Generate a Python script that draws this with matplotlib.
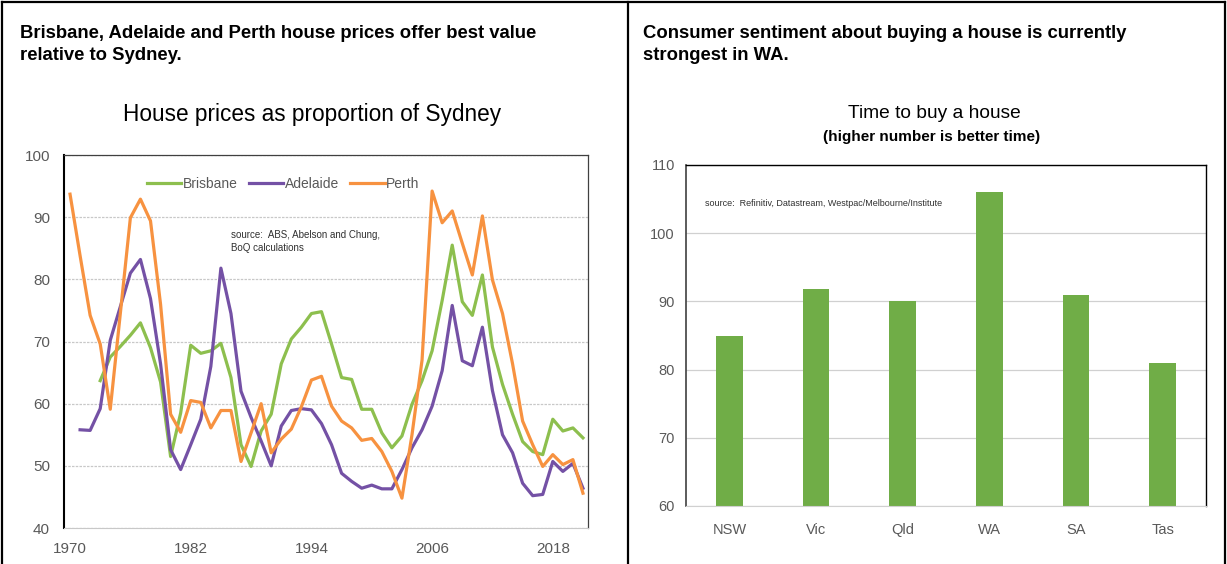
import numpy as np
import matplotlib.pyplot as plt
from matplotlib.lines import Line2D

NARROW = ['Liberation Sans Narrow', 'Liberation Sans', 'DejaVu Sans']
plt.rcParams['font.family'] = ['Liberation Sans', 'DejaVu Sans']

# left chart: house prices relative to Sydney (%)
years = list(range(1970, 2022))
perth = [93.7, 83.8, 74.2, 69.6, 59.1, 74.5, 89.9, 92.9, 89.4, 76.0,
         58.3, 55.4, 60.5, 60.2, 56.1, 58.9, 58.9, 50.7, 55.3, 60.0,
         52.1, 54.3, 55.9, 59.5, 63.8, 64.4, 59.6, 57.2, 56.1, 54.1,
         54.4, 52.3, 49.1, 44.8, 55.0, 67.0, 94.2, 89.1, 91.0, 85.8,
         80.7, 90.2, 79.9, 74.5, 66.4, 57.2, 53.4, 49.9, 51.8, 50.2,
         51.0, 45.6]
adelaide = [None, 55.8, 55.7, 59.2, 70.2, 75.6, 81.0, 83.2, 76.9, 66.4,
            52.6, 49.4, 53.4, 57.5, 66.0, 81.8, 74.5, 62.0, 57.8, 54.0,
            50.0, 56.4, 58.9, 59.2, 59.0, 56.8, 53.4, 48.8, 47.5, 46.4,
            46.9, 46.3, 46.3, 49.4, 52.9, 55.8, 59.6, 65.3, 75.8, 66.9,
            66.1, 72.3, 62.1, 55.0, 52.1, 47.2, 45.2, 45.4, 50.7, 49.1,
            50.4, 46.4]
brisbane = [None, None, None, 63.7, 67.5, 69.2, 71.0, 73.0, 69.0, 63.5,
            51.5, 58.5, 69.4, 68.1, 68.5, 69.7, 64.2, 53.4, 49.9, 55.6,
            58.3, 66.4, 70.4, 72.3, 74.5, 74.8, 69.6, 64.2, 63.9, 59.1,
            59.1, 55.3, 52.9, 54.8, 59.9, 63.7, 68.5, 76.6, 85.5, 76.4,
            74.2, 80.7, 69.1, 63.1, 58.3, 53.9, 52.3, 51.8, 57.5, 55.6,
            56.1, 54.5]
year_ticks = [1970, 1982, 1994, 2006, 2018]

# right chart: time to buy a house index
states = ['NSW', 'Vic', 'Qld', 'WA', 'SA', 'Tas']
sentiment = [84.9, 91.8, 90.0, 106.1, 90.9, 81.0]

GREY = '#595959'

fig = plt.figure(figsize=(12.27, 5.64), dpi=100)

# panel frame
for x in [2 / 1227, 628 / 1227, 1225 / 1227]:
    fig.add_artist(Line2D([x, x], [0, 1 - 2 / 564], color='black', lw=1.6))
fig.add_artist(Line2D([2 / 1227, 1225 / 1227], [1 - 2 / 564] * 2, color='black', lw=1.6))

fig.text(20 / 1227, 1 - 34 / 564, 'Brisbane, Adelaide and Perth house prices offer best value',
         fontsize=13.3, fontweight='bold', va='center')
fig.text(20 / 1227, 1 - 56 / 564, 'relative to Sydney.',
         fontsize=13.3, fontweight='bold', va='center')
fig.text(643 / 1227, 1 - 34 / 564, 'Consumer sentiment about buying a house is currently',
         fontsize=13.3, fontweight='bold', va='center')
fig.text(643 / 1227, 1 - 56 / 564, 'strongest in WA.',
         fontsize=13.3, fontweight='bold', va='center')

# ---- left chart
ax1 = fig.add_axes([64 / 1227, 1 - 528 / 564, 524 / 1227, 373 / 564])
yrs = np.array(years, dtype=float)
b = np.array([np.nan if v is None else v for v in brisbane])
a = np.array([np.nan if v is None else v for v in adelaide])
ax1.plot(yrs, b, color='#8dbf4e', lw=2.3, label='Brisbane')
ax1.plot(yrs, a, color='#7451a5', lw=2.3, label='Adelaide')
ax1.plot(yrs, perth, color='#f79240', lw=2.3, label='Perth')
ax1.set_xlim(1969.4, 2021.5)
ax1.set_ylim(40, 100)
ax1.set_yticks(range(40, 101, 10))
ax1.set_xticks(year_ticks)
ax1.tick_params(length=0, labelsize=11, labelcolor=GREY)
ax1.tick_params(axis='y', pad=10)
ax1.tick_params(axis='x', pad=10)
for lab in ax1.get_xticklabels() + ax1.get_yticklabels():
    lab.set_family(NARROW)
ax1.grid(axis='y', color='#c8c8c8', lw=0.9, ls=(0, (2, 1)))
ax1.set_axisbelow(True)
ax1.spines['left'].set_color('black')
ax1.spines['left'].set_linewidth(1.5)
for s in ['top', 'right']:
    ax1.spines[s].set_color('#404040')
    ax1.spines[s].set_linewidth(0.9)
ax1.spines['bottom'].set_color('#c8c8c8')
ax1.spines['bottom'].set_linestyle((0, (2, 1)))
leg = ax1.legend(ncol=3, loc='center', bbox_to_anchor=(0.418, 0.922), frameon=False,
                 handlelength=2.5, handletextpad=0.1, columnspacing=0.8,
                 prop={'family': NARROW, 'size': 10})
for t in leg.get_texts():
    t.set_color(GREY)
ax1.text(0.318, 0.768, 'source:  ABS, Abelson and Chung,\nBoQ calculations',
         transform=ax1.transAxes, fontsize=7, family=NARROW, va='center',
         linespacing=1.4, color='#303030')
fig.text(312 / 1227, 1 - 114 / 564, 'House prices as proportion of Sydney',
         fontsize=16.3, family=NARROW, ha='center', va='center')

# ---- right chart
ax2 = fig.add_axes([686 / 1227, 1 - 506 / 564, 520 / 1227, 341 / 564])
ax2.bar(states, sentiment, width=0.31, bottom=0, color='#70ad47')
ax2.set_ylim(60, 110)
ax2.set_xlim(-0.5, 5.5)
ax2.set_yticks(range(60, 111, 10))
ax2.tick_params(length=0, labelsize=10.5, labelcolor=GREY)
ax2.tick_params(axis='y', pad=8)
ax2.tick_params(axis='x', pad=12)
for lab in ax2.get_xticklabels() + ax2.get_yticklabels():
    lab.set_family(NARROW)
ax2.grid(axis='y', color='#d0d0d0', lw=0.9)
ax2.set_axisbelow(True)
ax2.spines['left'].set_color('#404040')
ax2.spines['left'].set_linewidth(1.2)
for s in ['top', 'right']:
    ax2.spines[s].set_color('black')
    ax2.spines[s].set_linewidth(1.0)
ax2.spines['bottom'].set_color('#d0d0d0')
ax2.text(0.037, 0.886, 'source:  Refinitiv, Datastream, Westpac/Melbourne/Institute',
         transform=ax2.transAxes, fontsize=6.5, family=NARROW, va='center', color='#303030')
fig.text(934 / 1227, 1 - 113 / 564, 'Time to buy a house',
         fontsize=13.8, family=NARROW, ha='center', va='center')
fig.text(932 / 1227, 1 - 137 / 564, '(higher number is better time)',
         fontsize=11, family=NARROW, fontweight='bold', ha='center', va='center')

fig.savefig('out.png', dpi=100)
